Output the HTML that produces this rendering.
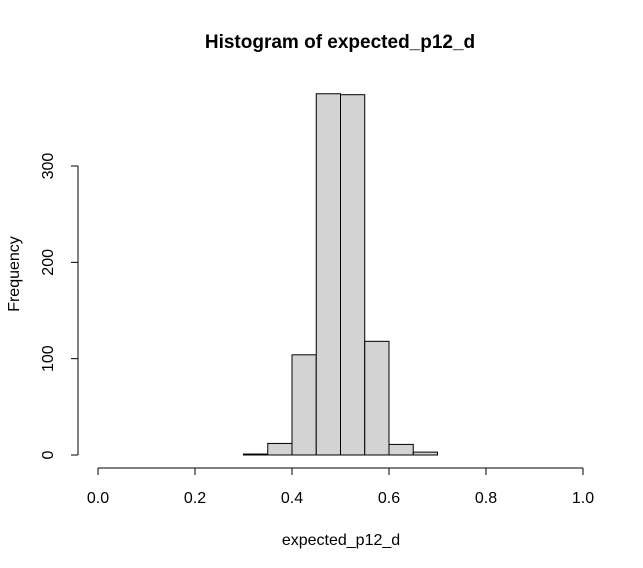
<!DOCTYPE html>
<html><head><meta charset="utf-8"><style>body{margin:0;background:#fff}svg{display:block}text{font-family:"Liberation Sans",Arial,sans-serif}</style></head>
<body>
<svg id="chart" width="643" height="568" xmlns="http://www.w3.org/2000/svg">
<rect width="643" height="568" fill="#fff"/>
<text x="340" y="48" text-anchor="middle" font-size="19" font-weight="bold">Histogram of expected_p12_d</text>
<text x="341" y="545" text-anchor="middle" font-size="16">expected_p12_d</text>
<text x="19" y="274" text-anchor="middle" font-size="16" transform="rotate(-90 19 274)">Frequency</text>
<g id="bars"></g><g id="xaxis"></g><g id="yaxis"></g>
</svg>
<script>
const binStarts=[0.30,0.35,0.40,0.45,0.50,0.55,0.60,0.65];
const counts=[1,12,104,375,374,118,11,3];
const binWidth=0.05;
const xTicks=[0,0.2,0.4,0.6,0.8,1.0];
const xTickLabels=["0.0","0.2","0.4","0.6","0.8","1.0"];
const yTicks=[0,100,200,300];
const NS="http://www.w3.org/2000/svg";
const x=v=>98+v*485;
const y=v=>455-v*289/300;
function mk(t,a,p){const e=document.createElementNS(NS,t);for(const k in a)e.setAttribute(k,a[k]);p.appendChild(e);return e;}
const bars=document.getElementById('bars');
binStarts.forEach((b,i)=>{
 const r=mk('rect',{x:x(b),y:y(counts[i]),width:x(b+binWidth)-x(b),height:y(0)-y(counts[i]),fill:'#d3d3d3',stroke:'#000','stroke-width':1},bars);
 
 
});
const xa=document.getElementById('xaxis');
mk('line',{x1:x(0),x2:x(1),y1:468,y2:468,stroke:'#000'},xa);
xTicks.forEach((t,i)=>{
 mk('line',{x1:x(t),x2:x(t),y1:468,y2:475,stroke:'#000'},xa);
 const tx=mk('text',{x:x(t),y:503,'text-anchor':'middle','font-size':16},xa);
 tx.textContent=xTickLabels[i];
 
 
});
const ya=document.getElementById('yaxis');
mk('line',{x1:78,x2:78,y1:y(0),y2:y(300),stroke:'#000'},ya);
yTicks.forEach(t=>{
 mk('line',{x1:71,x2:78,y1:y(t),y2:y(t),stroke:'#000'},ya);
 const tx=mk('text',{x:53,y:y(t),'text-anchor':'middle','font-size':16,transform:`rotate(-90 53 ${y(t)})`},ya);
 tx.textContent=t;
 
 
});
</script>
</body></html>
